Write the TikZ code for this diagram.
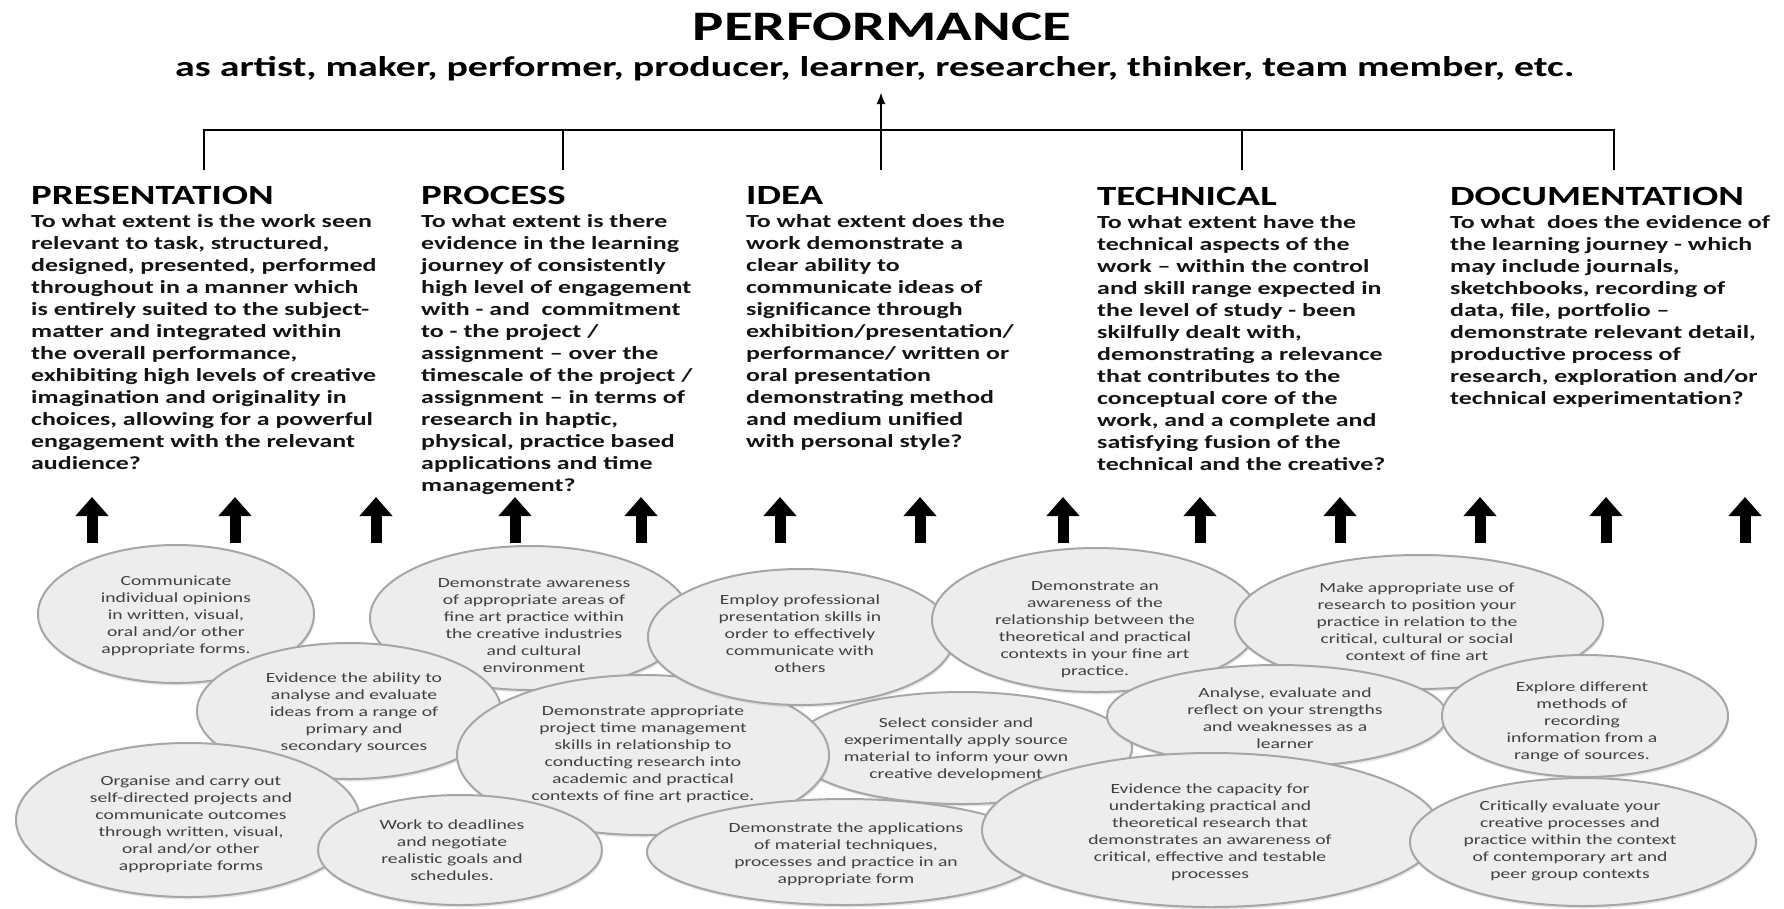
\documentclass[tikz,border=0pt]{standalone}
\usepackage{fontspec}
\usepackage{graphicx}
\setmainfont{Carlito}
\usetikzlibrary{arrows.meta,shadows,shapes.geometric}
\newcommand{\hst}[1]{\scalebox{1.4}[1]{#1}}
\newcommand{\colbody}[1]{\hst{\begin{tabular}[t]{@{}l@{}}#1\end{tabular}}}
\newcommand{\bubtext}[1]{\hst{\begin{tabular}{@{}c@{}}#1\end{tabular}}}
\tikzset{
  conn/.style={line width=2.5pt, black},
  uparrow/.style={line width=11pt, -{Triangle[width=32pt,length=19pt]}},
  headtxt/.style={font=\fontsize{27.8}{32}\selectfont\bfseries, anchor=base west, inner sep=0pt},
  bodytxt/.style={font=\fontsize{18.5}{22}\selectfont\bfseries, anchor=base west, inner sep=0pt, text=black!92},
  bubble/.style={ellipse, draw=black!35, line width=2pt, fill=black!7, inner sep=0pt,
    drop shadow={shadow xshift=1pt, shadow yshift=-2.5pt, opacity=0.2}},
  bubtxt/.style={font=\fontsize{14}{17}\selectfont, text=black!75, inner sep=0pt},
}
\newcommand{\bub}[6]{%
  \node[bubble, minimum width=#3, minimum height=#4] (e#1) at (#2) {};
  \node[bubtxt] (t#1) at (#5) {\bubtext{#6}};}
\begin{document}
\begin{tikzpicture}[x=1pt,y=-1pt]
\fill[white] (0,0) rectangle (1784,908);
\useasboundingbox (0,0) rectangle (1784,908);

% title
\node[font=\fontsize{42}{50}\selectfont\bfseries, anchor=base, inner sep=0pt] (title) at (882,40) {\hst{PERFORMANCE}};
\node[font=\fontsize{28.5}{34}\selectfont\bfseries, anchor=base, inner sep=0pt] (sub) at (875,76) {\hst{as artist, maker, performer, producer, learner, researcher, thinker, team member, etc.}};

% connector tree
\coordinate (h1) at (204,130);
\coordinate (h2) at (563,130);
\coordinate (h3) at (881,130);
\coordinate (h4) at (1242,130);
\coordinate (h5) at (1614,130);
\coordinate (d1) at (204,170);
\coordinate (d2) at (563,170);
\coordinate (d3) at (881,170);
\coordinate (d4) at (1242,170);
\coordinate (d5) at (1614,170);
\coordinate (tip) at (881,92);
\draw[conn] (d1) -- (h1) -- (h5) -- (d5);
\draw[conn] (h2) -- (d2);
\draw[conn] (h4) -- (d4);
\draw[conn, -{Latex[length=12pt,width=9pt]}] (d3) -- (tip);

% headings
\node[headtxt] (hpres) at (31,204) {\hst{PRESENTATION}};
\node[headtxt] (hproc) at (421,204) {\hst{PROCESS}};
\node[headtxt] (hidea) at (746,204) {\hst{IDEA}};
\node[headtxt] (htech) at (1097,205) {\hst{TECHNICAL}};
\node[headtxt] (hdoc) at (1450,205) {\hst{DOCUMENTATION}};

% body texts
\node[bodytxt] (bpres) at (31,227) {\colbody{To what extent is the work seen\\
relevant to task, structured,\\
designed, presented, performed\\
throughout in a manner which\\
is entirely suited to the subject-\\
matter and integrated within\\
the overall performance,\\
exhibiting high levels of creative\\
imagination and originality in\\
choices, allowing for a powerful\\
engagement with the relevant\\
audience?}};
\node[bodytxt] (bproc) at (421,227) {\colbody{To what extent is there\\
evidence in the learning\\
journey of consistently\\
high level of engagement\\
with - and\ \ commitment\\
to - the project /\\
assignment – over the\\
timescale of the project /\\
assignment – in terms of\\
research in haptic,\\
physical, practice based\\
applications and time\\
management?}};
\node[bodytxt] (bidea) at (746,227) {\colbody{To what extent does the\\
work demonstrate a\\
clear ability to\\
communicate ideas of\\
significance through\\
exhibition/presentation/\\
performance/ written or\\
oral presentation\\
demonstrating method\\
and medium unified\\
with personal style?}};
\node[bodytxt] (btech) at (1097,228) {\colbody{To what extent have the\\
technical aspects of the\\
work – within the control\\
and skill range expected in\\
the level of study - been\\
skilfully dealt with,\\
demonstrating a relevance\\
that contributes to the\\
conceptual core of the\\
work, and a complete and\\
satisfying fusion of the\\
technical and the creative?}};
\node[bodytxt] (bdoc) at (1450,228) {\colbody{To what\ \ does the evidence of\\
the learning journey - which\\
may include journals,\\
sketchbooks, recording of\\
data, file, portfolio –\\
demonstrate relevant detail,\\
productive process of\\
research, exploration and/or\\
technical experimentation?}};

% thick up arrows
\foreach \i/\x in {1/92,2/235,3/376,4/515,5/641,6/780,7/920,8/1063,9/1200,10/1340,11/1480,12/1606,13/1745} {
  \coordinate (ab\i) at (\x,543);
  \coordinate (at\i) at (\x,497);
  \draw[uparrow] (ab\i) -- (at\i);
}

% ellipses
\bub{1}{176,614}{276}{138}{176,616}{Communicate\\individual opinions\\in written, visual,\\oral and/or other\\appropriate forms.}
\bub{2}{530,618}{320}{144}{534,627}{Demonstrate awareness\\of appropriate areas of\\fine art practice within\\the creative industries\\and cultural\\environment}
\bub{6}{349,711}{304}{136}{354,713}{Evidence the ability to\\analyse and evaluate\\ideas from a range of\\primary and\\secondary sources}
\bub{8}{962,748}{340}{112}{956,750}{Select consider and\\experimentally apply source\\material to inform your own\\creative development}
\bub{7}{643,755}{372}{160}{643,755}{Demonstrate appropriate\\project time management\\skills in relationship to\\conducting research into\\academic and practical\\contexts of fine art practice.}
\bub{3}{801,637}{306}{136}{800,635}{Employ professional\\presentation skills in\\order to effectively\\communicate with\\others}
\bub{4}{1096,620}{328}{144}{1095,630}{Demonstrate an\\awareness of the\\relationship between the\\theoretical and practical\\contexts in your fine art\\practice.}
\bub{5}{1419,622}{368}{134}{1417,623}{Make appropriate use of\\research to position your\\practice in relation to the\\critical, cultural or social\\context of fine art}
\bub{9}{1277,716}{340}{102}{1285,720}{Analyse, evaluate and\\reflect on your strengths\\and weaknesses as a\\learner}
\bub{10}{1585,716}{286}{122}{1582,722}{Explore different\\methods of\\recording\\information from a\\range of sources.}
\bub{11}{188,820}{344}{154}{191,825}{Organise and carry out\\self-directed projects and\\communicate outcomes\\through written, visual,\\oral and/or other\\appropriate forms}
\bub{12}{460,850}{284}{110}{452,852}{Work to deadlines\\and negotiate\\realistic goals and\\schedules.}
\bub{13}{845,852}{396}{106}{846,855}{Demonstrate the applications\\of material techniques,\\processes and practice in an\\appropriate form}
\bub{14}{1211,830}{458}{154}{1210,833}{Evidence the capacity for\\undertaking practical and\\theoretical research that\\demonstrates an awareness of\\critical, effective and testable\\processes}
\bub{15}{1583,842}{346}{128}{1570,841}{Critically evaluate your\\creative processes and\\practice within the context\\of contemporary art and\\peer group contexts}
\end{tikzpicture}
\end{document}
